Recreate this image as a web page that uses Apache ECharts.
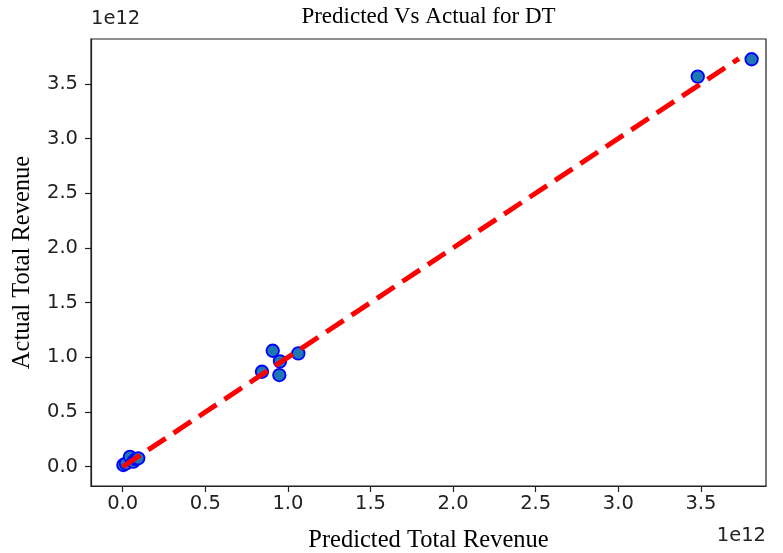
<!DOCTYPE html>
<html>
<head>
<meta charset="utf-8">
<script src="https://cdn.jsdelivr.net/npm/echarts@6/dist/echarts.min.js"></script>
<style>html,body{margin:0;padding:0;background:#fff;}#c{width:783px;height:553px;}</style>
</head>
<body>
<div id="c"></div>
<script>
// values in units of 1e12
const predicted = [0.004, 0.020, 0.044, 0.064, 0.080, 0.094, 0.843, 0.908, 0.948, 0.952, 1.063, 3.481, 3.807];
const actual    = [0.016, 0.030, 0.091, 0.046, 0.070, 0.077, 0.868, 1.060, 0.838, 0.963, 1.036, 3.565, 3.724];
const idealLine = [[0.0, 0.0], [3.73, 3.73]];
const tickValues = [0, 0.5, 1.0, 1.5, 2.0, 2.5, 3.0, 3.5];

const points = predicted.map((p, i) => [p, actual[i]]);
const chart = echarts.init(document.getElementById('c'), null, {renderer: 'canvas'});
const tickFont = {fontFamily: 'DejaVu Sans', fontSize: 19.5, color: '#222'};
const serif = 'Liberation Serif';
chart.setOption({
  animation: false,
  backgroundColor: '#fff',
  grid: {left: 91, right: 17, top: 39, bottom: 67, show: true, borderColor: '#222', borderWidth: 1.2,
         containLabel: false, outerBoundsMode: 'none'},
  xAxis: {
    type: 'value', min: -0.192, max: 3.894,
    name: 'Predicted Total Revenue', nameLocation: 'middle', nameGap: 42,
    nameTextStyle: {fontFamily: serif, fontSize: 24.5, color: '#000'},
    axisLine: {show: true, onZero: false, lineStyle: {color: '#222', width: 1.2}},
    axisTick: {show: true, length: 6, inside: false, customValues: tickValues, lineStyle: {color: '#222', width: 1.2}},
    axisLabel: Object.assign({margin: 8, customValues: tickValues, formatter: v => v.toFixed(1)}, tickFont),
    splitLine: {show: false}
  },
  yAxis: {
    type: 'value', min: -0.176, max: 3.909,
    name: 'Actual Total Revenue', nameLocation: 'middle', nameGap: 56, nameRotate: 90,
    nameTextStyle: {fontFamily: serif, fontSize: 24.5, color: '#000'},
    axisLine: {show: true, onZero: false, lineStyle: {color: '#222', width: 1.2}},
    axisTick: {show: true, length: 6, inside: false, customValues: tickValues, lineStyle: {color: '#222', width: 1.2}},
    axisLabel: Object.assign({margin: 13, customValues: tickValues, formatter: v => v.toFixed(1)}, tickFont),
    splitLine: {show: false}
  },
  graphic: [
    {type: 'text', x: 428.5, y: 5, style: {text: 'Predicted Vs Actual for DT', font: '23px "Liberation Serif"', fill: '#000', textAlign: 'center'}},
    {type: 'text', left: 91, top: 9, style: {text: '1e12', font: '19.5px "DejaVu Sans"', fill: '#222'}},
    {type: 'text', right: 17, top: 526, style: {text: '1e12', font: '19.5px "DejaVu Sans"', fill: '#222'}}
  ],
  series: [
    {
      type: 'scatter', data: points, symbol: 'circle', symbolSize: 12.5, z: 2,
      itemStyle: {color: '#1f77b4', borderColor: '#0000ff', borderWidth: 1.8, opacity: 1}
    },
    {
      type: 'line', data: idealLine, symbol: 'none', z: 3,
      lineStyle: {color: '#ff0000', width: 5, type: [21, 9.5]}
    }
  ]
});
</script>
</body>
</html>
